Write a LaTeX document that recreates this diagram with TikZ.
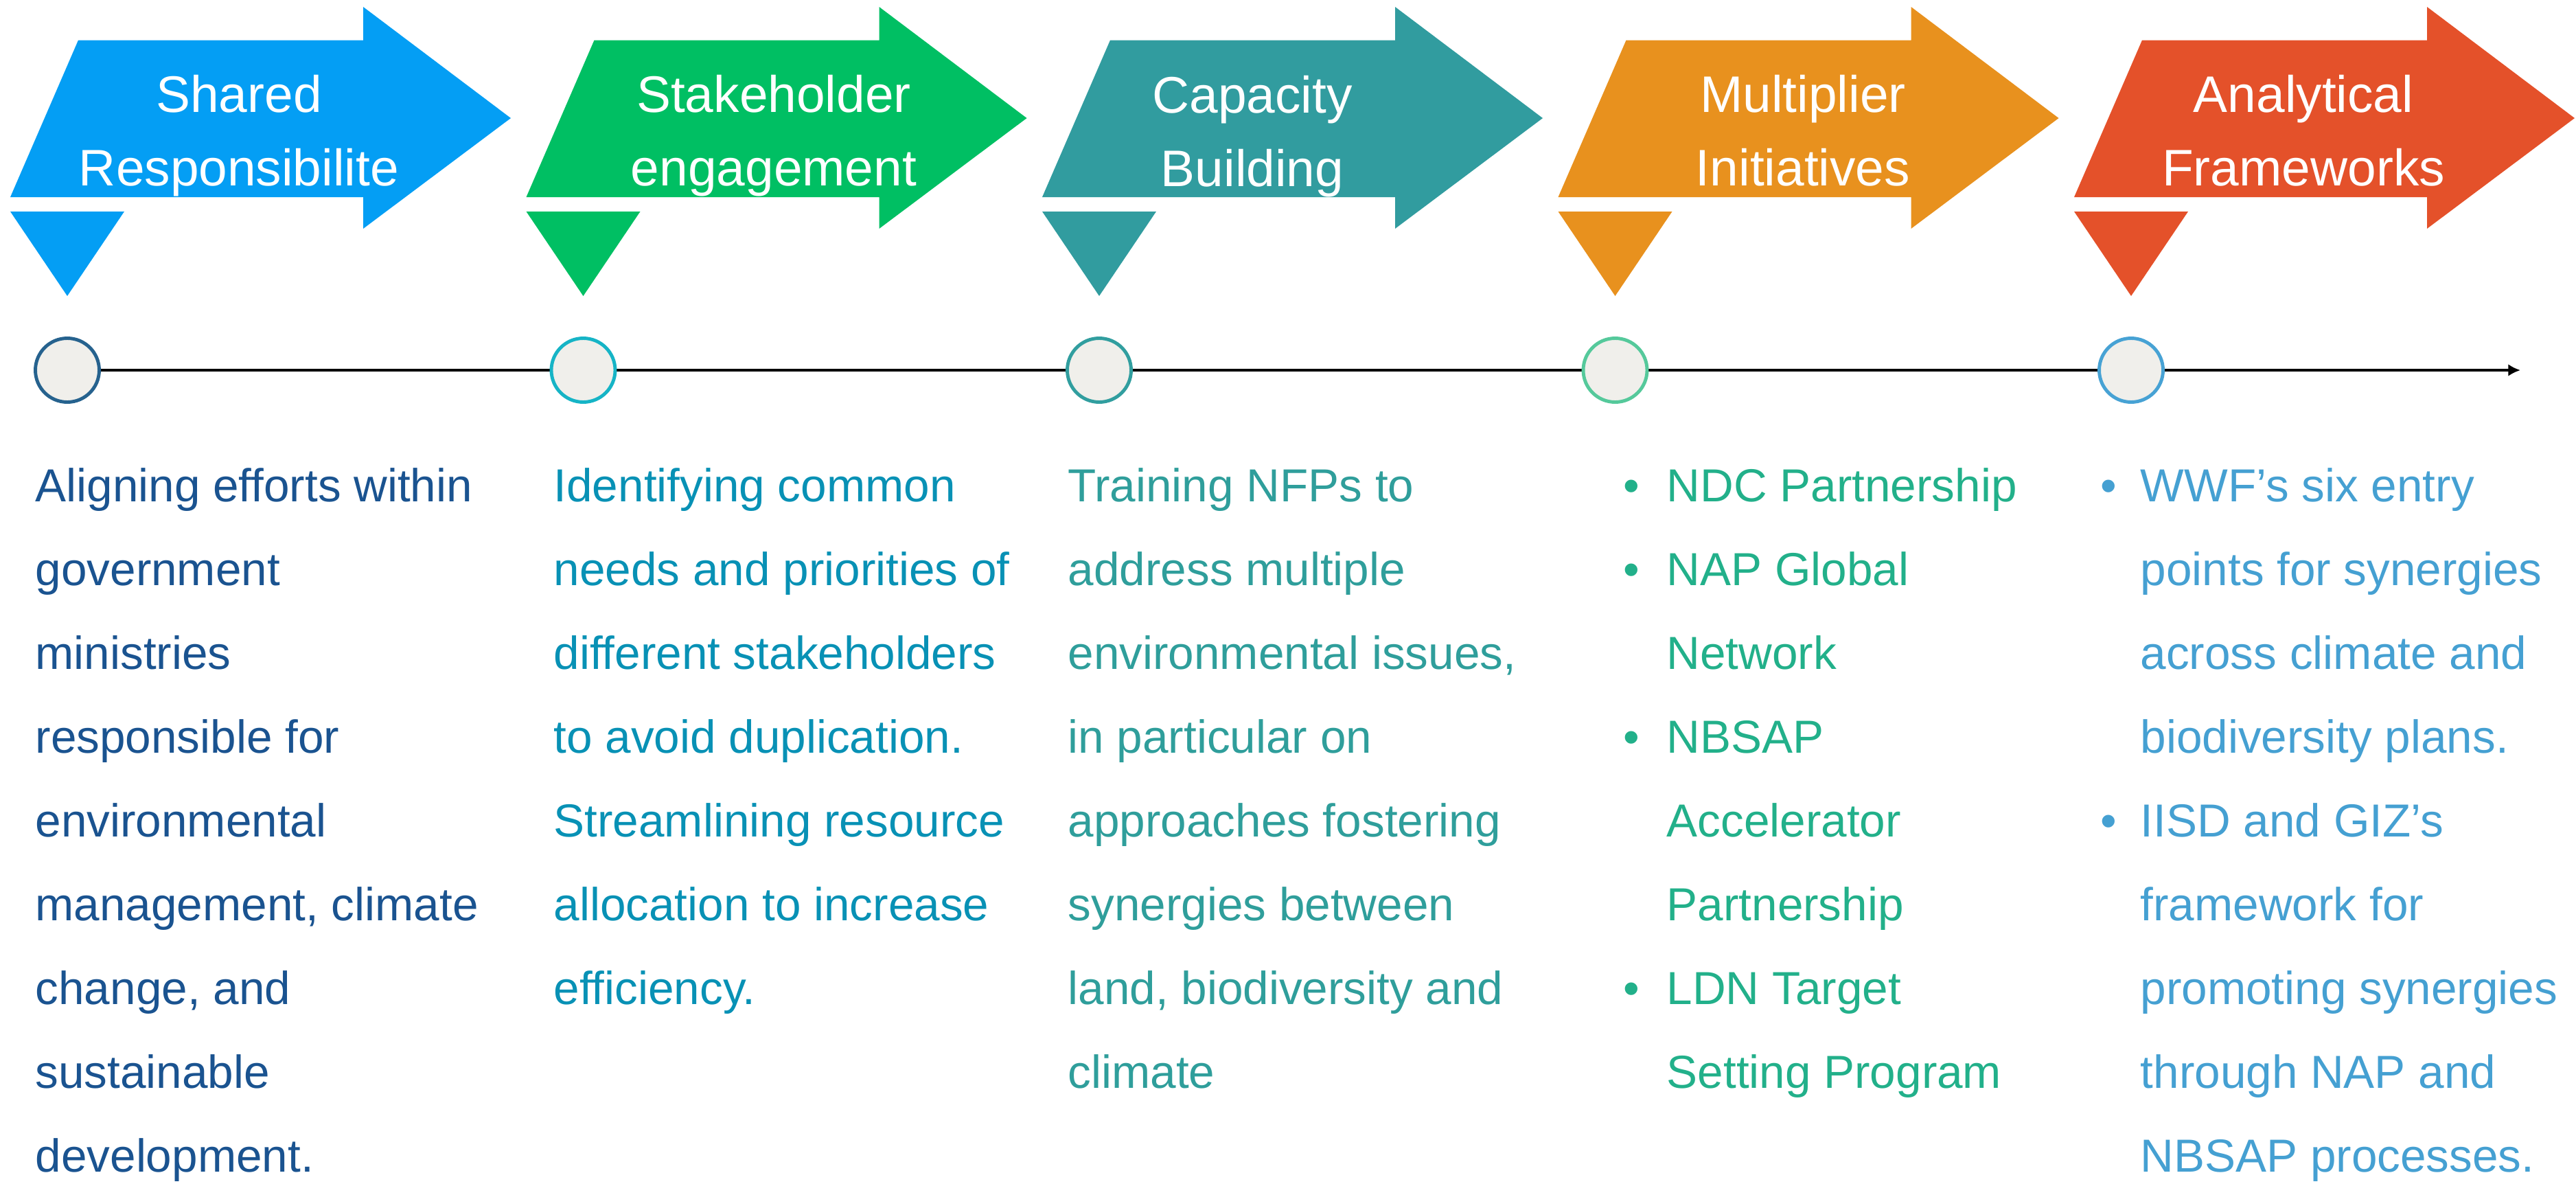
\documentclass[tikz,border=0pt]{standalone}
\usepackage{fontspec}
\setmainfont{Liberation Sans}
\usetikzlibrary{arrows.meta,backgrounds}

\definecolor{sharedblue}{HTML}{049EF4}
\definecolor{stakegreen}{HTML}{00BF63}
\definecolor{capteal}{HTML}{319C9F}
\definecolor{multorange}{HTML}{E8911E}
\definecolor{analred}{HTML}{E4512A}
\definecolor{dotfill}{HTML}{F0EFEB}
\definecolor{ringA}{HTML}{26628E}
\definecolor{ringB}{HTML}{16B4C6}
\definecolor{ringC}{HTML}{319E9F}
\definecolor{ringD}{HTML}{55C99B}
\definecolor{ringE}{HTML}{47A2D4}
\definecolor{txtA}{HTML}{1A5390}
\definecolor{txtB}{HTML}{0891B5}
\definecolor{txtC}{HTML}{2F9E9B}
\definecolor{txtD}{HTML}{22B08A}
\definecolor{txtE}{HTML}{45A0D2}

% base anchor of a multi-line node sits on its last line
\tikzset{
  head/.style={white, align=center, anchor=base, inner sep=0pt,
    font=\fontsize{21.3pt}{30.2pt}\selectfont},
  body/.style={align=left, anchor=base west, inner sep=0pt,
    font=\fontsize{19.2pt}{34.7pt}\selectfont},
  dot/.style={circle, draw, line width=1.4pt, fill=dotfill, minimum size=0.93cm, inner sep=0pt},
  timeline/.style={line width=1.15pt, -{Latex[length=5pt,width=5pt]}}
}
\newcommand{\bul}[1]{\makebox[#1][l]{•}}

\begin{document}
\begin{tikzpicture}
\useasboundingbox (0,0) rectangle (37.52,-17.23);

% big arrows
\fill[sharedblue] (0.15,-2.87) -- ++(0.99,2.285) -- ++(4.15,0) -- ++(0,0.485) -- ++(2.15,-1.62) -- ++(-2.15,-1.61) -- ++(0,0.46) -- cycle;
\fill[stakegreen] (7.665,-2.87) -- ++(0.99,2.285) -- ++(4.15,0) -- ++(0,0.485) -- ++(2.15,-1.62) -- ++(-2.15,-1.61) -- ++(0,0.46) -- cycle;
\fill[capteal] (15.18,-2.87) -- ++(0.99,2.285) -- ++(4.15,0) -- ++(0,0.485) -- ++(2.15,-1.62) -- ++(-2.15,-1.61) -- ++(0,0.46) -- cycle;
\fill[multorange] (22.695,-2.87) -- ++(0.99,2.285) -- ++(4.15,0) -- ++(0,0.485) -- ++(2.15,-1.62) -- ++(-2.15,-1.61) -- ++(0,0.46) -- cycle;
\fill[analred] (30.21,-2.87) -- ++(0.99,2.285) -- ++(4.15,0) -- ++(0,0.485) -- ++(2.15,-1.62) -- ++(-2.15,-1.61) -- ++(0,0.46) -- cycle;

% small pointers
\fill[sharedblue] (0.15,-3.08) -- ++(1.66,0) -- ++(-0.83,-1.23) -- cycle;
\fill[stakegreen] (7.665,-3.08) -- ++(1.66,0) -- ++(-0.83,-1.23) -- cycle;
\fill[capteal] (15.18,-3.08) -- ++(1.66,0) -- ++(-0.83,-1.23) -- cycle;
\fill[multorange] (22.695,-3.08) -- ++(1.66,0) -- ++(-0.83,-1.23) -- cycle;
\fill[analred] (30.21,-3.08) -- ++(1.66,0) -- ++(-0.83,-1.23) -- cycle;

\node[head] (H1) at (3.48,-2.70) {Shared\\Responsibilite};
\node[head] (H2) at (11.27,-2.70) {Stakeholder\\engagement};
\node[head] (H3) at (18.24,-2.71) {Capacity\\Building};
\node[head] (H4) at (26.26,-2.70) {Multiplier\\Initiatives};
\node[head] (H5) at (33.55,-2.70) {Analytical\\Frameworks};

% timeline
\node[dot, draw=ringA] (C1) at (0.98,-5.39) {};
\node[dot, draw=ringB] (C2) at (8.495,-5.39) {};
\node[dot, draw=ringC] (C3) at (16.01,-5.39) {};
\node[dot, draw=ringD] (C4) at (23.525,-5.39) {};
\node[dot, draw=ringE] (C5) at (31.04,-5.39) {};
\coordinate (T) at (36.71,-5.39);
\begin{pgfonlayer}{background}
\draw[timeline] (C1) -- (T);
\end{pgfonlayer}

% descriptions, placed by their last line
\node[body, txtA] (D1) at (0.51,-17.06) {Aligning efforts within\\government\\ministries\\responsible for\\environmental\\management, climate\\change, and\\sustainable\\development.};
\node[body, txtB] (D2) at (8.06,-14.62) {Identifying common\\needs and priorities of\\different stakeholders\\to avoid duplication.\\Streamlining resource\\allocation to increase\\efficiency.};
\node[body, txtC] (D3) at (15.55,-15.84) {Training NFPs to\\address multiple\\environmental issues,\\in particular on\\approaches fostering\\synergies between\\land, biodiversity and\\climate};
\node[body, txtD] (D4) at (23.64,-15.84) {\bul{0.63cm}NDC Partnership\\\bul{0.63cm}NAP Global\\\hspace*{0.63cm}Network\\\bul{0.63cm}NBSAP\\\hspace*{0.63cm}Accelerator\\\hspace*{0.63cm}Partnership\\\bul{0.63cm}LDN Target\\\hspace*{0.63cm}Setting Program};
\node[body, txtE] (D5) at (30.59,-17.06) {\bul{0.58cm}WWF’s six entry\\\hspace*{0.58cm}points for synergies\\\hspace*{0.58cm}across climate and\\\hspace*{0.58cm}biodiversity plans.\\\bul{0.58cm}IISD and GIZ’s\\\hspace*{0.58cm}framework for\\\hspace*{0.58cm}promoting synergies\\\hspace*{0.58cm}through NAP and\\\hspace*{0.58cm}NBSAP processes.};
\end{tikzpicture}
\end{document}
